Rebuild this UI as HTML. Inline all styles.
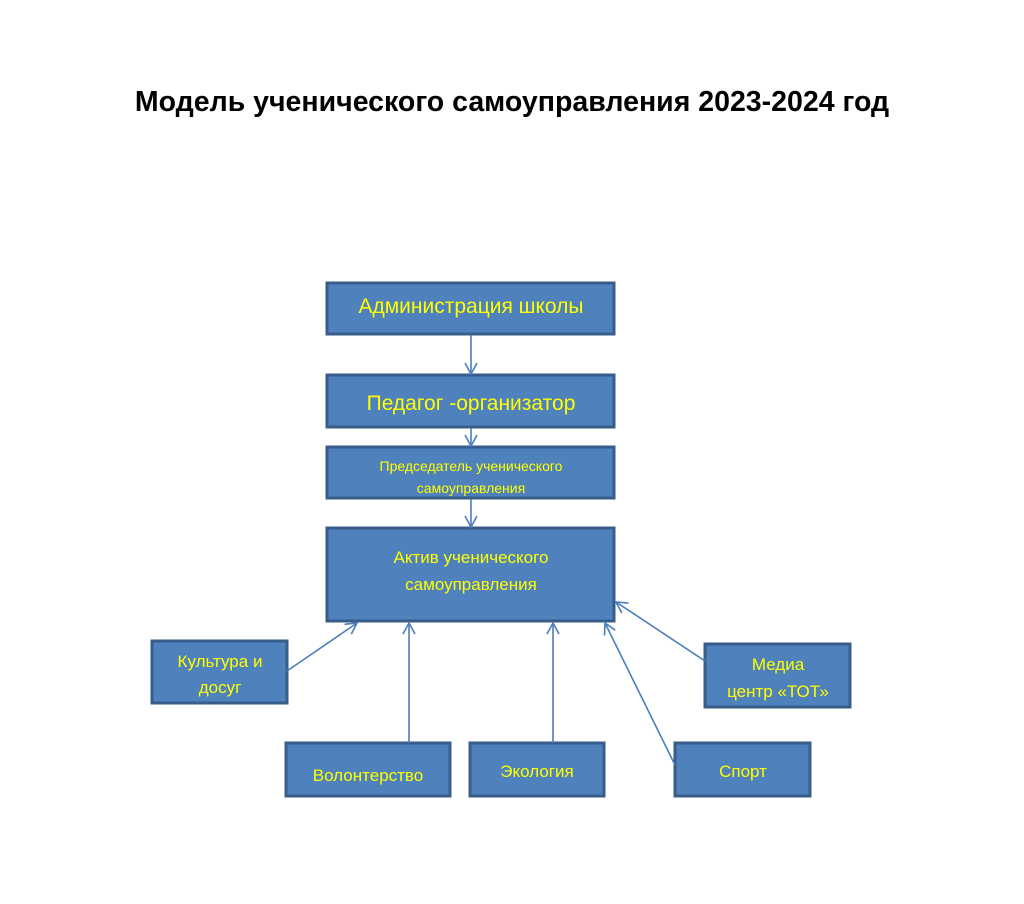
<!DOCTYPE html>
<html><head><meta charset="utf-8"><style>body{margin:0;background:#fff}</style></head><body>
<svg width="1024" height="899" xmlns="http://www.w3.org/2000/svg" font-family="'Liberation Sans','DejaVu Sans',sans-serif">
<defs><marker id="a" markerWidth="14" markerHeight="14" refX="12" refY="7" orient="auto" markerUnits="userSpaceOnUse"><path d="M1,1 L12,7 L1,13" fill="none" stroke="#4a7ebb" stroke-width="1.6"/></marker></defs>
<text x="512" y="111" text-anchor="middle" font-size="28.5" font-weight="bold" fill="#000">Модель ученического самоуправления 2023-2024 год</text>
<g fill="#4f81bd" stroke="#385d8a" stroke-width="3">
<rect x="327" y="283" width="287" height="51"/>
<rect x="327" y="375" width="287" height="52"/>
<rect x="327" y="447" width="287" height="51"/>
<rect x="327" y="528" width="287" height="93"/>
<rect x="152" y="641" width="135" height="62"/>
<rect x="286" y="743" width="164" height="53"/>
<rect x="470" y="743" width="134" height="53"/>
<rect x="675" y="743" width="135" height="53"/>
<rect x="705" y="644" width="145" height="63"/>
</g>
<g stroke="#4a7ebb" stroke-width="1.6" marker-end="url(#a)">
<line x1="471" y1="335" x2="471" y2="374"/>
<line x1="471" y1="428" x2="471" y2="446"/>
<line x1="471" y1="499" x2="471" y2="527"/>
<line x1="287" y1="671" x2="357" y2="623"/>
<line x1="409" y1="743" x2="409" y2="623"/>
<line x1="553" y1="743" x2="553" y2="623"/>
<line x1="675" y1="765" x2="605" y2="623"/>
<line x1="705" y1="661" x2="616" y2="602"/>
</g>
<g fill="#ffff00" text-anchor="middle">
<text x="471" y="313" font-size="21">Администрация школы</text>
<text x="471" y="410" font-size="21">Педагог -организатор</text>
<text x="471" y="471" font-size="14">Председатель ученического</text>
<text x="471" y="493" font-size="14">самоуправления</text>
<text x="471" y="563" font-size="17">Актив ученического</text>
<text x="471" y="590" font-size="17">самоуправления</text>
<text x="220" y="667" font-size="17">Культура и</text>
<text x="220" y="693" font-size="17">досуг</text>
<text x="368" y="781" font-size="17">Волонтерство</text>
<text x="537" y="777" font-size="17">Экология</text>
<text x="743" y="777" font-size="17">Спорт</text>
<text x="778" y="670" font-size="17">Медиа</text>
<text x="778" y="697" font-size="17">центр «ТОТ»</text>
</g>
</svg>
</body></html>
